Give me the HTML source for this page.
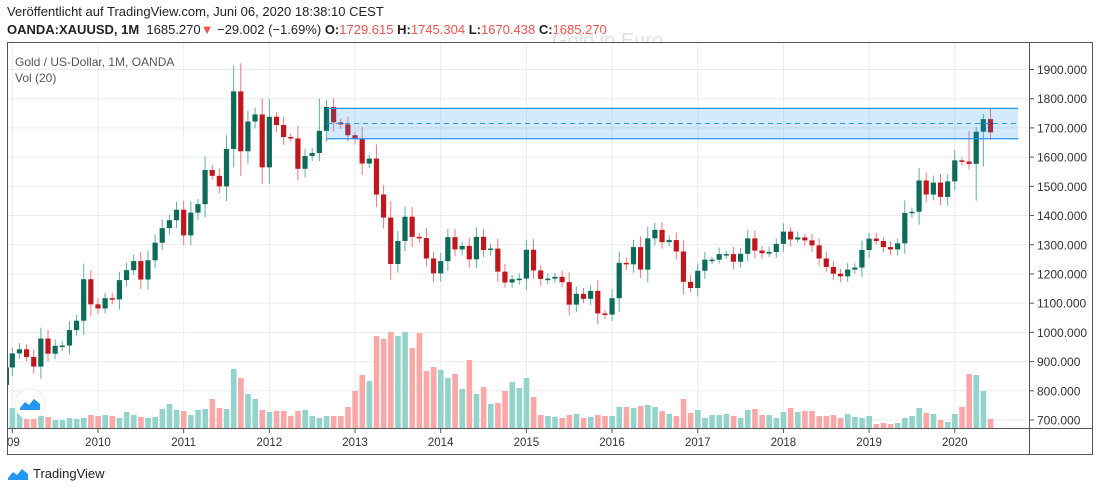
<!DOCTYPE html>
<html><head><meta charset="utf-8"><style>
html,body{margin:0;padding:0;background:#fff;width:1100px;height:492px;overflow:hidden;font-family:"Liberation Sans",sans-serif}
.h1{position:absolute;left:7px;top:4px;font-size:13px;color:#222}
.h2{position:absolute;left:7px;top:22px;font-size:13px;color:#222}
.r{color:#ef5350}
</style></head><body>
<div class="h1">Veröffentlicht auf TradingView.com, Juni 06, 2020 18:38:10 CEST</div>
<div class="h2"><b>OANDA:XAUUSD, 1M</b>&nbsp; 1685.270<span class="r">▼</span> −29.002 (−1.69%) <b>O:</b><span class="r">1729.615</span> <b>H:</b><span class="r">1745.304</span> <b>L:</b><span class="r">1670.438</span> <b>C:</b><span class="r">1685.270</span></div>
<svg id="s" width="1100" height="492" style="position:absolute;left:0;top:0" xmlns="http://www.w3.org/2000/svg"></svg>
<script>
var S=document.getElementById('s');var o='';
function Y(p){return 69.5+(1900-p)*0.2921}
function X(m){return 12.3+m*7.14}
o+='<defs><clipPath id="c"><rect x="7.5" y="42" width="1021" height="386"/></clipPath></defs>';
o+='<text x="552" y="47" font-size="20" fill="#e2e2e2" font-family="Liberation Sans">Gold in Euro</text>';
o+='<rect x="200" y="42" width="800" height="10" fill="#fff"/>';
o+='<g clip-path="url(#c)">';
for(var p=700;p<=1900;p+=100){o+='<line x1="7" x2="1029" y1="'+Y(p)+'" y2="'+Y(p)+'" stroke="#ebebeb"/>';}
for(var yr=0;yr<=11;yr++){var x=X(yr*12);o+='<line x1="'+x+'" x2="'+x+'" y1="42" y2="428" stroke="#ebebeb"/>';}
var C=[928,942,916,883,979,927,954,955,1008,1040,1182,1096,1082,1117,1113,1179,1213,1244,1181,1247,1307,1357,1384,1420,1332,1410,1439,1556,1536,1500,1628,1825,1620,1722,1746,1565,1738,1710,1669,1664,1560,1604,1614,1690,1772,1719,1712,1675,1663,1578,1595,1472,1393,1234,1313,1396,1327,1323,1253,1202,1244,1326,1284,1296,1250,1327,1282,1287,1208,1171,1182,1184,1283,1212,1183,1184,1190,1172,1095,1132,1115,1142,1065,1061,1117,1238,1233,1292,1215,1322,1351,1309,1316,1277,1173,1152,1211,1249,1249,1268,1268,1242,1269,1322,1280,1271,1275,1303,1345,1318,1325,1315,1298,1253,1224,1201,1192,1215,1222,1282,1321,1313,1292,1284,1305,1409,1413,1520,1472,1513,1464,1517,1589,1585,1577,1687,1730,1685];
var V=[20,17,9,9,12,11,8,8,10,9,10,13,12,13,12,10,16,13,11,10,11,19,24,18,17,13,18,19,29,20,19,59,50,34,29,18,16,17,17,12,17,18,12,10,12,12,12,21,37,53,47,92,89,96,92,96,80,95,57,61,58,50,54,39,68,34,41,24,25,37,46,40,50,31,13,12,11,10,13,14,10,11,13,12,12,21,21,20,22,23,21,17,14,12,29,15,18,10,13,13,14,12,10,18,19,13,13,10,16,20,16,17,17,12,12,13,10,14,11,10,12,4,5,4,5,10,12,20,15,14,8,6,14,21,54,53,37,9];
var HO={31:1912,32:1921,43:1800,44:1796,134:1689,135:1703,136:1747,137:1765,138:1745};
var LO={32:1535,135:1451,53:1180,83:1046,136:1568,138:1670};
for(var i=0;i<V.length;i++){var up=C[i]>=(i?C[i-1]:880);var x=X(i);
o+='<rect x="'+(x-2.7)+'" y="'+(428-V[i])+'" width="5.6" height="'+V[i]+'" fill="'+(up?'#93d3cc':'#f8a8a6')+'"/>';}
var prev=880;
o+='<rect x="4" y="'+Y(880)+'" width="5" height="'+(Y(820)-Y(880))+'" fill="#0d6b5a"/>';
for(var i=0;i<C.length;i++){var op=prev,cl=C[i];prev=cl;var up=cl>=op;var hi=Math.max(op,cl),lo=Math.min(op,cl);
var w=8+0.25*Math.abs(cl-op)+10*Math.abs(Math.sin(i*1.7));var w2=8+0.25*Math.abs(cl-op)+10*Math.abs(Math.cos(i*2.3));
var H=HO[i]||hi+w,L=LO[i]||lo-w2;var x=X(i);
o+='<line x1="'+x+'" x2="'+x+'" y1="'+Y(H)+'" y2="'+Y(L)+'" stroke="'+(up?'#5fae9f':'#f0777a')+'" stroke-width="1"/>';
var t=Y(hi),b=Y(lo);if(b-t<1.5)b=t+1.5;
o+='<rect x="'+(x-2.6)+'" y="'+t+'" width="5.2" height="'+(b-t)+'" fill="'+(up?'#0d6b5a':'#c0161d')+'"/>';}
o+='<rect x="327" y="'+Y(1767)+'" width="691" height="'+(Y(1663)-Y(1767))+'" fill="rgba(33,150,243,0.2)"/>';
o+='<line x1="327" x2="1018" y1="'+Y(1767)+'" y2="'+Y(1767)+'" stroke="#2196f3" stroke-width="1.2"/>';
o+='<line x1="327" x2="1018" y1="'+Y(1663)+'" y2="'+Y(1663)+'" stroke="#2196f3" stroke-width="1.2"/>';
o+='<line x1="327" x2="1018" y1="'+Y(1715)+'" y2="'+Y(1715)+'" stroke="#2196f3" stroke-dasharray="5,4" stroke-width="1"/>';
o+='</g>';
o+='<rect x="7.5" y="42.5" width="1085" height="412" fill="none" stroke="#555"/>';
o+='<line x1="1029.5" x2="1029.5" y1="42" y2="455" stroke="#555"/>';
o+='<line x1="7" x2="1093" y1="428.5" y2="428.5" stroke="#555"/>';
for(var p=700;p<=1900;p+=100){var y=Y(p);o+='<line x1="1029" x2="1034" y1="'+y+'" y2="'+y+'" stroke="#555"/><text x="1037" y="'+(y+4.5)+'" font-size="12" fill="#333">'+p+'.000</text>';}
for(var yr=0;yr<=11;yr++){var x=X(yr*12);o+='<line x1="'+x+'" x2="'+x+'" y1="428" y2="433" stroke="#555"/>';
if(yr>0)o+='<text x="'+x+'" y="446" font-size="11.5" fill="#333" text-anchor="middle">'+(2009+yr)+'</text>';}
o+='<text x="7" y="446" font-size="11.5" fill="#333">09</text>';
o+='<text x="15" y="66" font-size="12" fill="#555">Gold  / US-Dollar, 1M, OANDA</text>';
o+='<text x="15" y="82" font-size="12" fill="#555">Vol (20)</text>';
o+='<circle cx="30" cy="404" r="15" fill="#fff" stroke="#eee"/>';
o+='<path d="M20 408 l5-6 4 3 5-6 6 5 v6 h-20z" fill="#2196f3"/>';
o+='<path d="M8 478 l5-6 4 3 5-6 6 5 v6 h-20z" fill="#2196f3"/>';
o+='<text x="33" y="478" font-size="13" fill="#222">TradingView</text>';
S.innerHTML=o;
</script>
</body></html>
